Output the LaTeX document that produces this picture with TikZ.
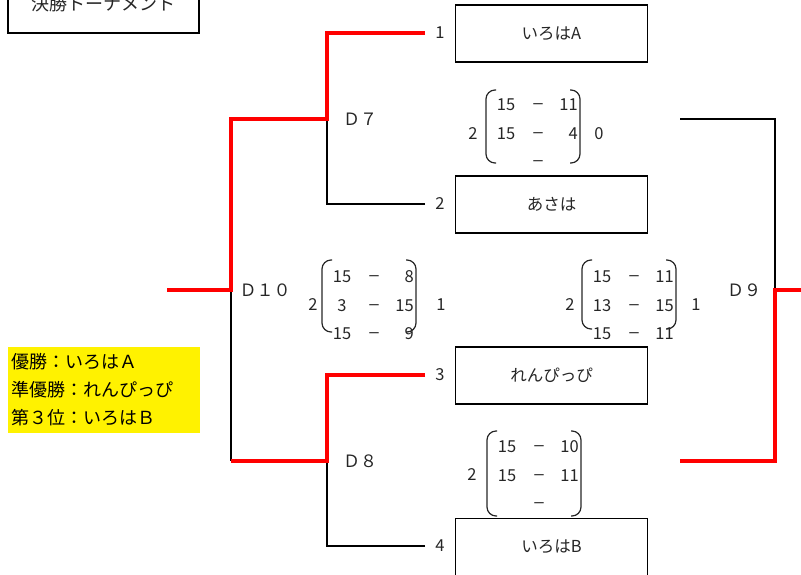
\documentclass[tikz,border=0pt]{standalone}
\usepackage{fontspec}
\setmainfont{Noto Sans CJK JP}
\newfontfamily\latfont{Liberation Sans}
\definecolor{txt}{HTML}{262626}
\tikzset{
  redline/.style={draw=red, line width=4.5pt},
  blkline/.style={draw=black, line width=1.5pt},
  team/.style={draw=black, line width=1.5pt, minimum width=192pt, minimum height=57pt, inner sep=0pt, font=\fontsize{16.5}{19}\selectfont, text=txt},
  lbl/.style={font=\fontsize{16.5}{19}\selectfont, text=txt, inner sep=0pt},
  dashlbl/.style={font=\fontsize{17}{19}\latfont, text=txt, inner sep=0pt, yshift=-1.5pt},
  dlbl/.style={font=\fontsize{17}{20}\selectfont, text=txt, inner sep=0pt},
  ylbl/.style={font=\fontsize{18}{21}\selectfont, text=black, inner sep=0pt, anchor=west},
  paren/.style={draw=txt, line width=1.2pt, rounded corners=9pt},
}
% rows of a score: name, left x, first row y, six values
\newcommand\scorerows[9]{%
  \node[lbl] (#1a1) at (#2+20,#3) {#4};
  \node[dashlbl] (#1d1) at (#2+52,#3) {–};
  \node[lbl,anchor=east] (#1b1) at (#2+92,#3) {#5};
  \node[lbl] (#1a2) at (#2+20,#3+28.5) {#6};
  \node[dashlbl] (#1d2) at (#2+52,#3+28.5) {–};
  \node[lbl,anchor=east] (#1b2) at (#2+92,#3+28.5) {#7};
  \node[lbl] (#1a3) at (#2+20,#3+57) {#8};
  \node[dashlbl] (#1d3) at (#2+52,#3+57) {–};
  \node[lbl,anchor=east] (#1b3) at (#2+92,#3+57) {#9};
}
% parentheses: left x, top y, bottom y
\newcommand\scoreparens[3]{%
  \draw[paren] (#1+10,#2) -- (#1,#2) -- (#1,#3) -- (#1+10,#3);
  \draw[paren] (#1+84,#2) -- (#1+94,#2) -- (#1+94,#3) -- (#1+84,#3);
}
\begin{document}
\begin{tikzpicture}[x=1pt,y=-1pt]
\useasboundingbox (0,0) rectangle (801,574);

% title
\draw[blkline] (8,-30) rectangle (199,33);
\node[font=\fontsize{18}{21}\selectfont, text=txt, inner sep=0pt] (title) at (103,4) {決勝トーナメント};

% teams
\node[team] (A) at (551.5,33.5) {いろはA};
\node[team] (B) at (551.5,204.5) {あさは};
\node[team] (C) at (551.5,375.5) {れんぴっぴ};
\node[team] (D) at (551.5,547) {いろはB};
\node[lbl] (n1) at (440,33) {1};
\node[lbl] (n2) at (440,204) {2};
\node[lbl] (n3) at (440,375) {3};
\node[lbl] (n4) at (440,546) {4};

% bracket points
\coordinate (t1) at (425,33);
\coordinate (t2) at (425,204);
\coordinate (t3) at (425,375);
\coordinate (t4) at (425,546);
\coordinate (m7) at (327,119);
\coordinate (m8) at (327,461);
\coordinate (m10) at (231,290);
\coordinate (root) at (167,290);
\coordinate (r7) at (680,119);
\coordinate (r8) at (680,461);
\coordinate (m9) at (775,290);
\coordinate (r9) at (806,290);

% black lines
\draw[blkline] (t2) -| (m7);
\draw[blkline] (t4) -| (m8);
\draw[blkline] (m10) -- (m10 |- m8);
\draw[blkline] (r7) -| (m9);

% red lines
\draw[redline] (t1) -| (m7) -| (m10) -- (root);
\draw[redline] (t3) -| (m8) -- (m8 -| m10);
\draw[redline] (r8) -| (m9) -- (r9);

% match labels
\node[dlbl] (d7) at (360,119) {Ｄ７};
\node[dlbl] (d10) at (265,290) {Ｄ１０};
\node[dlbl] (d8) at (360,461) {Ｄ８};
\node[dlbl] (d9) at (744,290) {Ｄ９};

% scores D7
\scorerows{s7}{486}{105}{15}{11}{15}{4}{}{}
\scoreparens{486}{90}{163}
\node[lbl] (s7l) at (473,134) {2};
\node[lbl] (s7r) at (599,134) {0};

% scores D10
\scorerows{s10}{322}{277}{15}{8}{3}{15}{15}{9}
\scoreparens{322}{260}{332}
\node[lbl] (s10l) at (313,305) {2};
\node[lbl] (s10r) at (441,305) {1};

% scores D9
\scorerows{s9}{582}{277}{15}{11}{13}{15}{15}{11}
\scoreparens{582}{260}{329}
\node[lbl] (s9l) at (570,305) {2};
\node[lbl] (s9r) at (696,305) {1};

% scores D8
\scorerows{s8}{487}{447}{15}{10}{15}{11}{}{}
\scoreparens{487}{431}{516}
\node[lbl] (s8l) at (472,475) {2};

% results
\node[fill=yellow, minimum width=192pt, minimum height=86pt, inner sep=0pt] (res) at (104,390) {};
\node[ylbl] (res1) at (11,362) {優勝：いろはＡ};
\node[ylbl] (res2) at (11,390) {準優勝：れんぴっぴ};
\node[ylbl] (res3) at (11,418) {第３位：いろはＢ};
\end{tikzpicture}
\end{document}
